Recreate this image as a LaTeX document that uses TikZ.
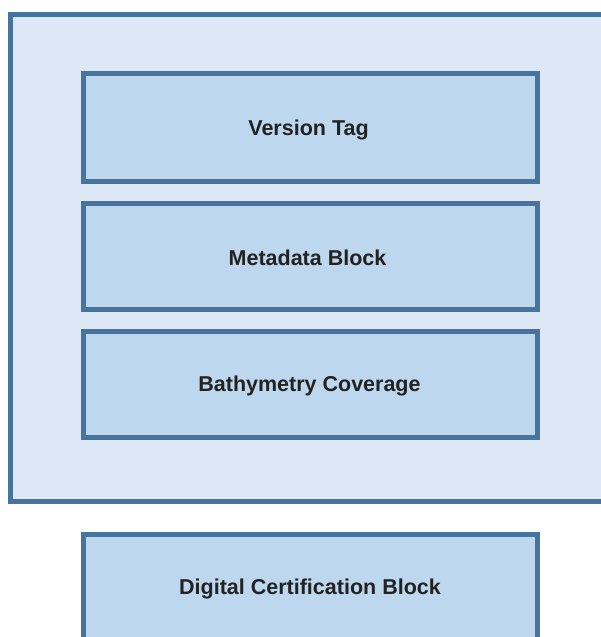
\documentclass[tikz,border=0pt]{standalone}
\usepackage{fontspec}
\setmainfont{Liberation Sans}
\definecolor{edge}{HTML}{4673A0}
\definecolor{outerfill}{HTML}{DCE8F5}
\definecolor{innerfill}{HTML}{BDD7EE}
\definecolor{txt}{HTML}{222222}
\tikzset{
  outerbox/.style={draw=edge, fill=outerfill, line width=5pt, rectangle, inner sep=0pt},
  layerbox/.style={draw=edge, fill=innerfill, line width=5pt, rectangle, inner sep=0pt,
    minimum width=454.5pt, minimum height=106pt},
  layertext/.style={font=\fontsize{21.5}{25}\selectfont\bfseries, text=txt, inner sep=0pt}
}
\begin{document}
\begin{tikzpicture}[x=1pt,y=-1pt]
\useasboundingbox (0,0) rectangle (601,637);
\clip (0,0) rectangle (601,637);
\node[outerbox, minimum width=609.5pt, minimum height=486.5pt] (container) at (315.25,257.75) {};
\node[layerbox, minimum height=108pt] (version) at (310.25,127.5) {};
\node[layerbox] (meta) at (310.25,256.5) {};
\node[layerbox] (bathy) at (310.25,384.5) {};
\node[layerbox, minimum height=108pt] (cert) at (310.25,588.5) {};
\node[layertext] (versiont) at (308.5,130) {Version Tag};
\node[layertext] (metat) at (307.5,257.5) {Metadata Block};
\node[layertext] (bathyt) at (309.5,385.5) {Bathymetry Coverage};
\node[layertext] (certt) at (310,588.5) {Digital Certification Block};
\end{tikzpicture}
\end{document}
